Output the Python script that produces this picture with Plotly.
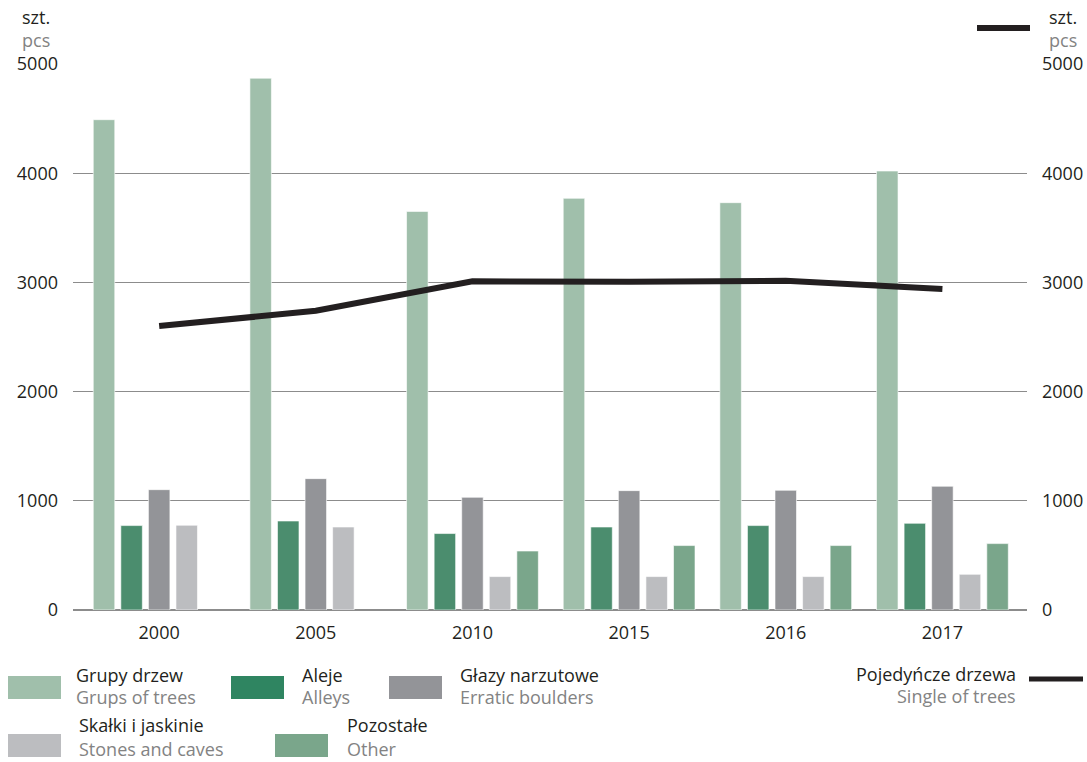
import plotly.graph_objects as go

# ---------------- data ----------------
years = ["2000", "2005", "2010", "2015", "2016", "2017"]
grupy_drzew = [4490, 4870, 3650, 3770, 3730, 4020]
aleje = [773, 815, 700, 760, 773, 794]
glazy = [1102, 1203, 1032, 1093, 1096, 1133]
skalki = [776, 760, 306, 306, 306, 327]
pozostale = [None, None, 540, 590, 590, 608]
pojedyncze = [2600, 2740, 3010, 3005, 3015, 2940]

names_pl = ["Grupy drzew", "Aleje", "Głazy narzutowe", "Skałki i jaskinie", "Pozostałe"]
names_en = ["Grups of trees", "Alleys", "Erratic boulders", "Stones and caves", "Other"]
line_pl = "Pojedyńcze drzewa"
line_en = "Single of trees"
unit_pl = "szt."
unit_en = "pcs"
y_ticks = [0, 1000, 2000, 3000, 4000, 5000]

# ---------------- style ----------------
W, H = 1087, 762
L, R, T, B = 73, 60, 64, 152
bar_colors = ["#a0bfab", "#4b8d6e", "#939498", "#bcbdc0", "#7aa68b"]
swatch_colors = ["#a0bfab", "#2f8561", "#939498", "#bcbdc0", "#7aa68b"]
DARK = "#231f20"
GREY = "#838383"
FONT = "Open Sans"

series = [grupy_drzew, aleje, glazy, skalki, pozostale]

fig = go.Figure()
for vals, nm, col in zip(series, names_pl, bar_colors):
    fig.add_trace(go.Bar(
        x=years, y=vals, name=nm, marker_color=col,
        marker_line=dict(color="rgba(255,255,255,0.6)", width=1),
        showlegend=False,
    ))

fig.add_trace(go.Scatter(
    x=years, y=pojedyncze, name=line_pl, mode="lines",
    line=dict(color=DARK, width=6), yaxis="y2", showlegend=False,
))

pw = W - L - R
ph = H - T - B


def px(xp):
    return (xp - L) / pw


def py(yp):
    return (H - B - yp) / ph


shapes = []
annotations = []

# legend: bars  (swatch x, swatch top y, text x, row)
legend_items = [
    (8, 676, 75, 0),     # Grupy drzew
    (231, 676, 301, 0),  # Aleje
    (389, 676, 459, 0),  # Glazy
    (8, 734, 78, 1),     # Skalki
    (275, 734, 346, 1),  # Pozostale
]
for i, (sx, sy, tx, row) in enumerate(legend_items):
    shapes.append(dict(type="rect", xref="paper", yref="paper",
                       x0=px(sx), x1=px(sx + 53), y0=py(sy), y1=py(sy + 23),
                       fillcolor=swatch_colors[i], line=dict(width=0), layer="above"))
    if row == 0:
        annotations.append(dict(xref="paper", yref="paper", x=px(tx), y=py(sy - 1),
                                text=names_pl[i], showarrow=False, xanchor="left",
                                yanchor="middle", borderpad=0,
                                font=dict(family=FONT, size=18, color=DARK)))
        annotations.append(dict(xref="paper", yref="paper", x=px(tx), y=py(sy + 21),
                                text=names_en[i], showarrow=False, xanchor="left",
                                yanchor="middle", borderpad=0,
                                font=dict(family=FONT, size=18, color=GREY)))
    else:
        annotations.append(dict(xref="paper", yref="paper", x=px(tx), y=py(sy - 9),
                                text=names_pl[i], showarrow=False, xanchor="left",
                                yanchor="middle", borderpad=0,
                                font=dict(family=FONT, size=18, color=DARK)))
        annotations.append(dict(xref="paper", yref="paper", x=px(tx), y=py(H),
                                text=names_en[i], showarrow=False, xanchor="left",
                                yanchor="bottom", borderpad=0,
                                font=dict(family=FONT, size=18, color=GREY)))

# legend: line
shapes.append(dict(type="line", xref="paper", yref="paper",
                   x0=px(1029), x1=px(1083), y0=py(679), y1=py(679),
                   line=dict(color=DARK, width=5)))
annotations.append(dict(xref="paper", yref="paper", x=px(1017), y=py(674),
                        text=line_pl, showarrow=False, xanchor="right", yanchor="middle",
                        borderpad=0, font=dict(family=FONT, size=18, color=DARK)))
annotations.append(dict(xref="paper", yref="paper", x=px(1017), y=py(696),
                        text=line_en, showarrow=False, xanchor="right", yanchor="middle",
                        borderpad=0, font=dict(family=FONT, size=18, color=GREY)))

# right axis marker line
shapes.append(dict(type="line", xref="paper", yref="paper",
                   x0=px(977), x1=px(1030), y0=py(28), y1=py(28),
                   line=dict(color=DARK, width=6)))

# unit labels
for ux in (36, 1063):
    annotations.append(dict(xref="paper", yref="paper", x=px(ux), y=py(28),
                            text=f"{unit_pl}<br><span style='color:{GREY}'>{unit_en}</span>",
                            showarrow=False, xanchor="center", yanchor="middle",
                            borderpad=0,
                            font=dict(family=FONT, size=18, color=DARK)))

fig.update_layout(
    width=W, height=H,
    margin=dict(l=L, r=R, t=T, b=B, autoexpand=False),
    paper_bgcolor="white", plot_bgcolor="white",
    barmode="group", bargap=0.12, bargroupgap=0.22,
    font=dict(family=FONT, size=18, color=DARK),
    xaxis=dict(type="category", range=[-0.55, 5.54], showgrid=False, showline=False,
               ticks="", tickfont=dict(family=FONT, size=18, color=DARK),
               ticklabelstandoff=10, fixedrange=True, automargin=False),
    yaxis=dict(range=[0, 5000], tickvals=y_ticks, showgrid=True, gridcolor="#8c8c8c",
               gridwidth=1, zeroline=True, zerolinecolor="#8c8c8c", zerolinewidth=2,
               showline=False, ticks="", ticklabelstandoff=14, automargin=False,
               tickfont=dict(family=FONT, size=18, color=DARK)),
    yaxis2=dict(range=[0, 5000], tickvals=y_ticks, overlaying="y", side="right",
                showgrid=False, zeroline=False, showline=False, ticks="",
                ticklabelstandoff=14, automargin=False,
                tickfont=dict(family=FONT, size=18, color=DARK)),
    shapes=shapes, annotations=annotations,
)

fig.write_html("out.html", config={"displayModeBar": False},
               post_script="document.body.style.margin='0';document.body.style.overflow='hidden';")
